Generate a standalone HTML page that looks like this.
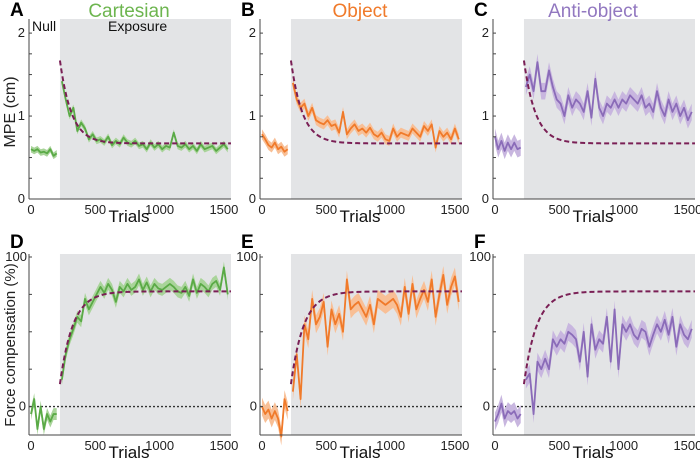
<!DOCTYPE html>
<html><head><meta charset="utf-8"><style>
body{margin:0;background:#fff;}
svg{display:block;font-family:"Liberation Sans",sans-serif;}
</style></head><body>
<svg id="c" width="700" height="461"></svg>
<script>
const trialsNull=[0,25,50,75,100,125,150,175,200];
const expStart=240, expStep=30;
const mpeNullA=[.6,.58,.6,.56,.57,.55,.6,.52,.55];
const mpeExpA=[1.42,1.2,1.0,1.1,0.82,0.92,0.85,0.72,0.78,0.7,0.72,0.68,0.75,0.65,0.7,0.66,0.74,0.68,0.66,0.7,0.64,0.66,0.6,0.68,0.62,0.66,0.6,0.64,0.62,0.8,0.64,0.62,0.66,0.6,0.64,0.58,0.66,0.6,0.62,0.64,0.58,0.62,0.66,0.6];
const mpeNullB=[.78,.72,.65,.62,.68,.6,.63,.57,.6];
const mpeExpB=[1.4,1.2,1.1,1.15,1.0,1.1,0.95,0.92,0.9,0.95,0.88,0.9,0.8,1.05,0.78,0.85,0.9,0.82,0.85,0.8,0.86,0.78,0.75,0.8,0.72,0.7,0.85,0.75,0.8,0.78,0.76,0.85,0.8,0.75,0.88,0.82,0.9,0.62,0.82,0.75,0.8,0.72,0.85,0.72];
const mpeNullC=[.75,.6,.7,.58,.68,.6,.68,.6,.62];
const mpeExpC=[1.35,1.5,1.3,1.65,1.3,1.3,1.55,1.35,1.2,1.15,1.0,1.25,1.1,1.2,1.15,1.05,1.3,0.98,1.45,1.1,1.0,1.15,1.1,1.2,1.1,1.2,1.15,1.25,1.2,1.15,1.25,1.1,1.15,1.05,1.3,1.1,1.0,1.2,1.05,1.15,1.0,1.1,0.95,1.05];
const fcNullD=[-5,5,-15,0,-15,-5,-10,-5,-5];
const fcExpD=[18,35,45,52,60,57,72,65,70,75,80,76,82,78,70,80,77,82,78,80,85,78,83,77,82,79,78,80,82,80,77,76,80,74,85,76,82,80,77,82,84,78,93,75];
const fcNullE=[0,-5,-2,-8,-3,-8,-20,5,-3];
const fcExpE=[10,35,5,55,45,72,55,60,70,40,65,55,62,50,85,65,68,70,65,60,68,55,72,70,68,70,72,68,60,80,62,82,65,72,78,70,85,60,75,88,68,80,87,70];
const fcNullF=[-10,-5,2,-8,-3,-5,-3,-8,-5];
const fcExpF=[18,22,-5,30,25,32,25,45,40,45,42,50,48,45,30,50,20,55,38,45,42,60,30,65,25,55,50,55,48,45,52,50,40,48,55,50,58,48,60,40,55,48,45,52];
const mpeFit=[1.67,0.67,90];   // start, asymptote, tau
const fcFit=[15,77,100];
const fitStart=225;
const xTicks=[0,500,1000,1500];

const NS="http://www.w3.org/2000/svg";
const svg=document.getElementById('c');
function el(t,a,p){const e=document.createElementNS(NS,t);for(const k in a)e.setAttribute(k,a[k]);(p||svg).appendChild(e);return e;}
function txt(s,a,p){const e=el('text',a,p);e.textContent=s;return e;}

const lefts=[29,260,493];
const cols=[["#5aaa46","#a9d49a","#6db54f"],["#f07a2a","#f8bf96","#f07a2a"],["#8a6bb8","#c8b6df","#9278c0"]];
const titles=["Cartesian","Object","Anti-object"];
const mpeN=[mpeNullA,mpeNullB,mpeNullC], mpeE=[mpeExpA,mpeExpB,mpeExpC];
const fcN=[fcNullD,fcNullE,fcNullF], fcE=[fcExpD,fcExpE,fcExpF];
const bandM=[0.04,0.06,0.1], bandF=[4,6,6];

function panel(i,row){
  const L=lefts[i];
  const top=row?254:19, bot=row?435:199;
  const ymin=row?-19:0, ymax=row?102:2.17;
  const X=t=>L+2+t*64.3/500;
  const Y=v=>bot-(v-ymin)/(ymax-ymin)*(bot-top);
  const g=el('g',{});
  
  
  const R=L+202;
  const sh=el('rect',{x:X(225),y:top,width:R-X(225),height:bot-top,fill:"#e3e4e6"},g);
  
  
  if(row) el('line',{x1:L,x2:R,y1:Y(0),y2:Y(0),stroke:"#333","stroke-width":1.3,"stroke-dasharray":"2,2"},g);
  const nv=row?fcN[i]:mpeN[i], ev=row?fcE[i]:mpeE[i], bw=row?bandF[i]:bandM[i];
  const segs=[[trialsNull,nv],[ev.map((_,k)=>expStart+k*expStep),ev]];
  segs.forEach(([ts,vs])=>{
    let up=ts.map((t,k)=>X(t)+','+Y(vs[k]+bw)), dn=ts.map((t,k)=>X(t)+','+Y(vs[k]-bw)).reverse();
    el('polygon',{points:up.concat(dn).join(' '),fill:cols[i][1]},g);
    const pl=el('polyline',{points:ts.map((t,k)=>X(t)+','+Y(vs[k])).join(' '),fill:"none",stroke:cols[i][0],"stroke-width":1.8,"stroke-linejoin":"round"},g);
    
    
  });
  const f=row?fcFit:mpeFit; const pts=[];
  for(let t=fitStart;t<=1560;t+=10){pts.push(X(t)+','+Y(f[1]+(f[0]-f[1])*Math.exp(-(t-fitStart)/f[2])));}
  const fl=el('polyline',{points:pts.join(' '),fill:"none",stroke:"#7a1f55","stroke-width":2,"stroke-dasharray":"5,3"},g);
  
  
  el('line',{x1:L,x2:L,y1:top,y2:bot,stroke:"#444"},g);
  el('line',{x1:L,x2:R,y1:bot,y2:bot,stroke:"#444"},g);
  xTicks.forEach(t=>{txt(String(t),{x:X(t),y:bot+15,"font-size":13,"text-anchor":"middle",fill:"#222"},g);});
  if(row){
    for(let v=0;v<=100;v+=25) el('line',{x1:L,x2:L+3,y1:Y(v),y2:Y(v),stroke:"#444"},g);
    txt("100",{x:L-2,y:Y(100)+4,"font-size":13,"text-anchor":"end",fill:"#222"},g);
    txt("0",{x:L-3,y:Y(0)+4,"font-size":13,"text-anchor":"end",fill:"#222"},g);
  } else {
    for(let v=0;v<=2;v+=0.25) el('line',{x1:L,x2:L+3,y1:Y(v),y2:Y(v),stroke:"#444"},g);
    [0,1,2].forEach(v=>txt(String(v),{x:L-4,y:Y(v)+4,"font-size":13,"text-anchor":"end",fill:"#222"},g));
  }
  const tl=txt("Trials",{x:L+100,y:bot+23,"font-size":17,"text-anchor":"middle",fill:"#111"},g);
  
  
  const letter=txt("ABCDEF"[i+row*3],{x:L-19,y:row?248:16,"font-size":19,"font-weight":"bold",fill:"#000"},g);
  
  
  if(!row){
    const tt=txt(titles[i],{x:L+100,y:17,"font-size":19,"text-anchor":"middle",fill:cols[i][2]},g);
    
    
  }
}
for(let r=0;r<2;r++)for(let i=0;i<3;i++)panel(i,r);
txt("Null",{x:32,y:31,"font-size":14,fill:"#111"});
txt("Exposure",{x:108,y:31,"font-size":14,fill:"#111"});
const y1=txt("MPE (cm)",{x:0,y:0,"font-size":16,"text-anchor":"middle",fill:"#222",transform:"translate(15,112) rotate(-90)"});


const y2=txt("Force compensation (%)",{x:0,y:0,"font-size":15,"text-anchor":"middle",fill:"#222",transform:"translate(15,345) rotate(-90)"});


</script>
</body></html>
